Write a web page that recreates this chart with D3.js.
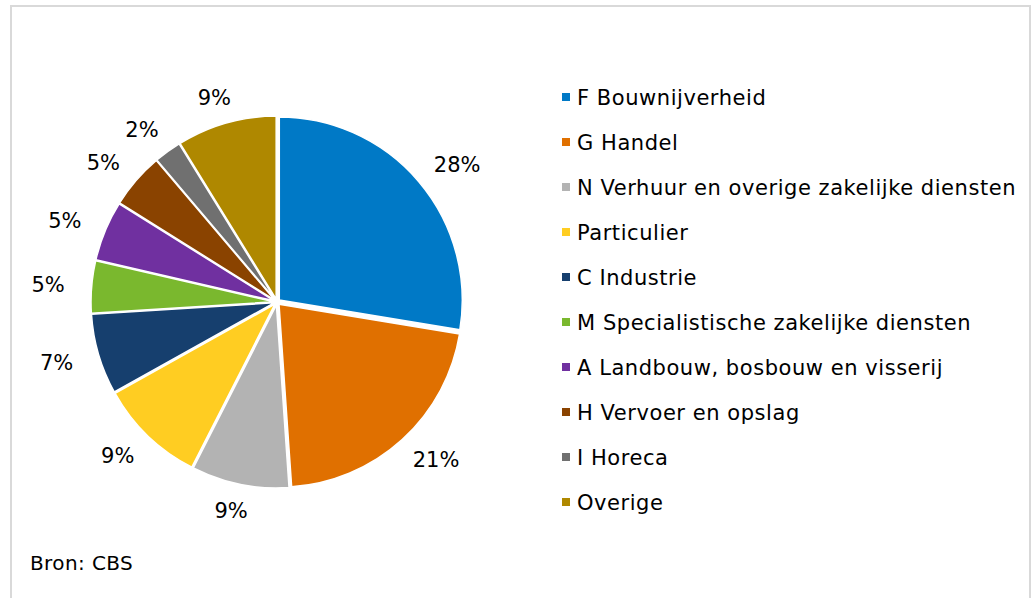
<!DOCTYPE html>
<html>
<head>
<meta charset="utf-8">
<script src="https://cdn.jsdelivr.net/npm/d3@7"></script>
<style>
  body { margin: 0; background: #fff; }
  svg { display: block; font-family: "DejaVu Sans", Verdana, sans-serif; }
</style>
</head>
<body>
<div id="chart"></div>
<script>
// sectors (CBS), share in %
var categories = [
  "F Bouwnijverheid",
  "G Handel",
  "N Verhuur en overige zakelijke diensten",
  "Particulier",
  "C Industrie",
  "M Specialistische zakelijke diensten",
  "A Landbouw, bosbouw en visserij",
  "H Vervoer en opslag",
  "I Horeca",
  "Overige"
];
var shares = [27.6, 21.3, 8.6, 9.4, 7.1, 4.6, 5.3, 4.9, 2.4, 8.8];
var pctLabels = ["28%", "21%", "9%", "9%", "7%", "5%", "5%", "5%", "2%", "9%"];
var colors = ["#0079c6", "#e07000", "#b3b3b3", "#ffcd22", "#163f6e",
              "#7ab82e", "#7030a0", "#8a4300", "#707070", "#af8800"];

var svgWidth = 1033, svgHeight = 598;
var cx = 277, cy = 302, radius = 183;
var explode = 3;
// label anchor distance (x / y), box sits just outside the edge like excel does
var labelRx = 213, labelRy = 203;

var svg = d3.select("#chart")
  .append("svg")
  .attr("width", svgWidth)
  .attr("height", svgHeight);

// chart frame
svg.append("rect")
  .attr("x", 11)
  .attr("y", 6)
  .attr("width", 1019)
  .attr("height", 600)
  .attr("fill", "#fff")
  .attr("stroke", "#d9d9d9")
  .attr("stroke-width", 2);

var data = categories.map(function(c, i) {
  return {name: c, value: shares[i], label: pctLabels[i], color: colors[i]};
});

var pie = d3.pie().sort(null).value(d => d.value);
var arc = d3.arc().innerRadius(0).outerRadius(radius);
var arcs = pie(data);

var pieGroup = svg.append("g")
  .attr("transform", `translate(${cx}, ${cy})`);

pieGroup.selectAll("path")
  .data(arcs)
  .enter()
  .append("path")
  .attr("d", arc)
  .attr("fill", d => d.data.color)
  .attr("stroke", "#fff")
  .attr("stroke-width", 1.5)
  .attr("transform", function(d) {
    var a = (d.startAngle + d.endAngle) / 2;
    return `translate(${Math.sin(a) * explode}, ${-Math.cos(a) * explode})`;
  });

var labels = pieGroup.selectAll("text")
  .data(arcs)
  .enter()
  .append("text")
  .attr("text-anchor", "middle")
  .attr("dy", "0.36em")
  .attr("font-size", "21px")
  .attr("fill", "#000")
  .text(d => d.data.label);

labels.attr("transform", function(d) {
  var a = (d.startAngle + d.endAngle) / 2;
  var s = Math.sin(a), c = Math.cos(a);
  var w = this.getComputedTextLength();
  var x = s * labelRx + s * w / 2;
  var y = -c * labelRy - c * 10;
  return `translate(${x}, ${y})`;
});

// legend
var legendX = 562, legendY = 97, rowH = 45;
var legend = svg.append("g");
var rows = legend.selectAll("g")
  .data(data)
  .enter()
  .append("g")
  .attr("transform", (d, i) => `translate(${legendX}, ${legendY + i * rowH})`);

rows.append("rect")
  .attr("x", 0)
  .attr("y", -4)
  .attr("width", 8)
  .attr("height", 8)
  .attr("fill", d => d.color);

rows.append("text")
  .attr("x", 15)
  .attr("dy", "0.36em")
  .attr("font-size", "21px")
  .attr("letter-spacing", "0.55px")
  .attr("fill", "#000")
  .text(d => d.name);

svg.append("text")
  .attr("x", 30)
  .attr("y", 570)
  .attr("font-size", "20px")
  .attr("letter-spacing", "0.4px")
  .attr("fill", "#000")
  .text("Bron: CBS");
</script>
</body>
</html>
